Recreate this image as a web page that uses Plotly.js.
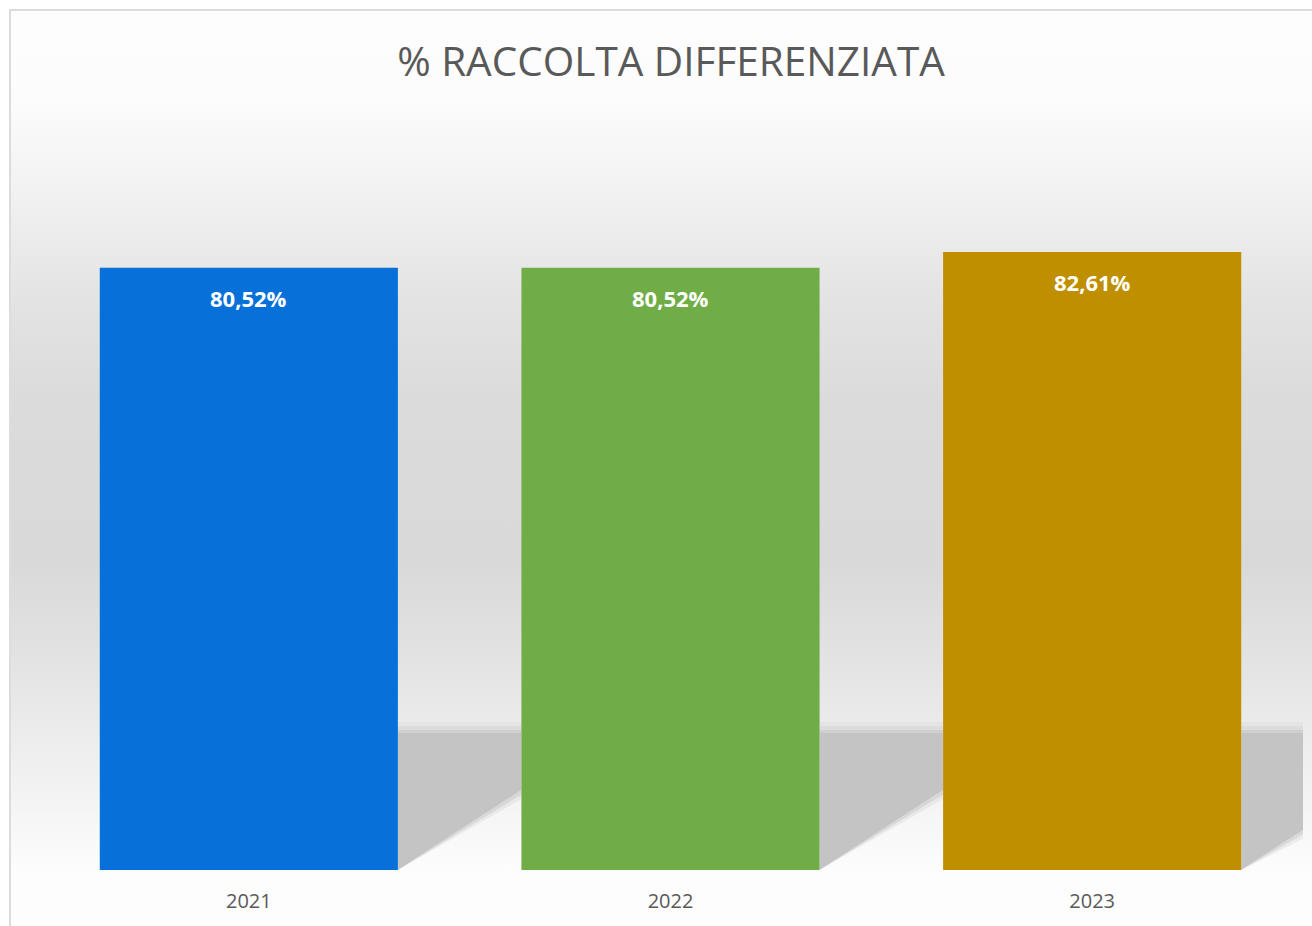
<!DOCTYPE html>
<html>
<head>
<meta charset="utf-8">
<script src="https://cdn.plot.ly/plotly-3.0.1.min.js"></script>
<style>
  html, body { margin: 0; padding: 0; background: #ffffff; width: 1312px; height: 926px; overflow: hidden; }
  #frame {
    position: absolute; left: 9px; top: 9px; width: 1400px; height: 1000px;
    border-left: 2px solid #dcdcdc; border-top: 2px solid #dcdcdc;
    background: linear-gradient(to bottom,
      #fdfdfd 0px, #fcfcfc 91px, #f0f0f0 191px, #e3e3e3 291px, #dbdbdb 391px,
      #d9d9d9 551px, #e2e2e2 641px, #ebebeb 716px, #f4f4f4 791px, #fdfdfd 861px, #fdfdfd 1000px);
  }
  #chart { position: absolute; left: 0; top: 0; width: 1312px; height: 926px; }
</style>
</head>
<body>
<div id="frame"></div>
<div id="chart"></div>
<script>
  // Data
  const years = ['2021', '2022', '2023'];
  const values = [80.52, 80.52, 82.61];
  const labels = ['80,52%', '80,52%', '82,61%'];
  const colors = ['#0770d9', '#70ad47', '#bf8f00'];

  const idx = years.map((_, i) => i);
  const bargap = 0.293;
  const halfW = (1 - bargap) / 2;

  // Decorative floor shadows between bars (soft edges simulated with layered fills)
  const shapes = [];
  const shadowTop = 18.3;
  const slope = 10.7 / (1 - 2 * halfW); // rise in y-units per x-unit
  idx.forEach((i) => {
    const x0 = i + halfW;
    const x1 = (i === years.length - 1) ? years.length - 0.5 + 0.004 : i + 1 - halfW;
    const rise = slope * (x1 - x0);
    // soft fringe below the diagonal
    [[1.2, 'rgba(196,196,196,0.25)'], [0.6, 'rgba(196,196,196,0.45)']].forEach(([d, c]) => {
      shapes.push({
        type: 'path', xref: 'x', yref: 'y', layer: 'below',
        path: `M ${x0},0 L ${x1},${rise - d} L ${x1},${rise} L ${x0},0.01 Z`,
        fillcolor: c, line: { width: 0 }
      });
    });
    shapes.push({
      type: 'path', xref: 'x', yref: 'y', layer: 'below',
      path: `M ${x0},0 L ${x1},${rise} L ${x1},${shadowTop} L ${x0},${shadowTop} Z`,
      fillcolor: '#c4c4c4', line: { width: 0 }
    });
    // soft top edge
    [[0.5, '#cfcfcf'], [1.0, '#dcdcdc'], [1.5, '#e4e4e4']].forEach(([d, c], k) => {
      const lo = shadowTop + (k === 0 ? 0 : [0.5, 1.0][k - 1]);
      shapes.push({
        type: 'path', xref: 'x', yref: 'y', layer: 'below',
        path: `M ${x0},${lo} L ${x1},${lo} L ${x1},${shadowTop + d} L ${x0},${shadowTop + d} Z`,
        fillcolor: c, line: { width: 0 }
      });
    });
  });

  const annotations = idx.map((i) => ({
    x: i, y: values[i], xref: 'x', yref: 'y',
    text: '<b>' + labels[i] + '</b>', showarrow: false,
    yanchor: 'middle', yshift: -30,
    font: { family: 'Open Sans', size: 22, color: '#ffffff' }
  }));

  const trace = {
    type: 'bar', x: idx, y: values,
    marker: { color: colors, line: { width: 0 } },
    hoverinfo: 'none'
  };

  const layout = {
    width: 1312, height: 926,
    paper_bgcolor: 'rgba(0,0,0,0)', plot_bgcolor: 'rgba(0,0,0,0)',
    margin: { l: 38, r: 9, t: 122, b: 56 },
    bargap: bargap,
    showlegend: false,
    title: {
      text: '% RACCOLTA DIFFERENZIATA',
      font: { family: 'Open Sans', size: 40.5, color: '#595959' },
      x: 671 / 1312, xanchor: 'center', xref: 'container',
      y: 1 - 62 / 926, yanchor: 'middle', yref: 'container'
    },
    xaxis: {
      type: 'linear', range: [-0.5, years.length - 0.5],
      tickmode: 'array', tickvals: idx, ticktext: years,
      showgrid: false, zeroline: false, showline: false, ticks: '',
      ticklabelstandoff: 17,
      tickfont: { family: 'Open Sans', size: 20, color: '#595959' },
      fixedrange: true
    },
    yaxis: { range: [0, 100], visible: false, fixedrange: true },
    shapes: shapes,
    annotations: annotations
  };

  Plotly.newPlot('chart', [trace], layout, { displayModeBar: false, staticPlot: true });
</script>
</body>
</html>
